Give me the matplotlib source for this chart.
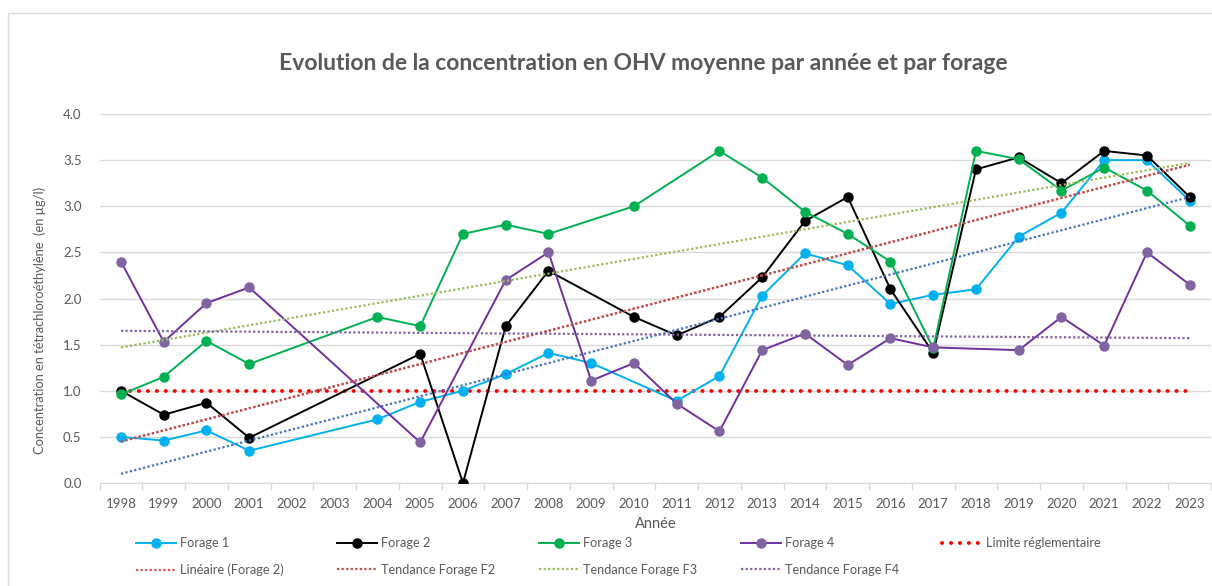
import matplotlib
matplotlib.use("Agg")
import matplotlib.pyplot as plt
from matplotlib.lines import Line2D
from matplotlib.patches import Rectangle
import numpy as np

plt.rcParams["font.family"] = ["Lato", "DejaVu Sans"]

# catégories (années) ; 2002 et 2003 sans mesure
years = [str(y) for y in range(1998, 2024)]

forage1 = [0.50, 0.46, 0.57, 0.35, None, None, 0.69, 0.88, 1.00, 1.18, 1.41, 1.30, None,
           0.89, 1.16, 2.03, 2.49, 2.36, 1.94, 2.04, 2.10, 2.67, 2.93, 3.50, 3.50, 3.06]
forage2 = [1.00, 0.74, 0.87, 0.49, None, None, None, 1.40, 0.00, 1.70, 2.30, None, 1.80,
           1.60, 1.80, 2.23, 2.84, 3.10, 2.10, 1.41, 3.40, 3.53, 3.25, 3.60, 3.55, 3.10]
forage3 = [0.96, 1.15, 1.54, 1.29, None, None, 1.80, 1.70, 2.70, 2.80, 2.70, None, 3.00,
           None, 3.60, 3.31, 2.94, 2.70, 2.40, 1.46, 3.60, 3.51, 3.17, 3.42, 3.17, 2.79]
forage4 = [2.40, 1.53, 1.95, 2.12, None, None, None, 0.44, None, 2.20, 2.50, 1.11, 1.30,
           0.86, 0.56, 1.44, 1.62, 1.28, 1.57, 1.47, None, 1.44, 1.80, 1.49, 2.50, 2.15]

limite = 1.0

# droites de tendance : valeurs lues en 1998 et en 2023
trend_f1 = [0.10, 3.10]
trend_f2 = [0.45, 3.45]
trend_f3 = [1.47, 3.47]
trend_f4 = [1.65, 1.57]

grey_txt = "#595959"

fig = plt.figure(figsize=(12.12, 5.86), dpi=100)
fig.patches.append(Rectangle((8 / 1212, -0.1), 1.2, 1 - 13 / 586 + 0.1,
                             transform=fig.transFigure, fill=False,
                             edgecolor="#D9D9D9", linewidth=1))
ax = fig.add_axes([99.6 / 1212, 1 - 483 / 586, 1111.5 / 1212, 369 / 586])

x_all = np.arange(len(years))


def series(vals):
    x = [i for i, v in enumerate(vals) if v is not None]
    y = [v for v in vals if v is not None]
    return x, y


lim_style = dict(color="#FF0000", lw=2.8, linestyle=(0, (0.05, 2.25)),
                 dash_capstyle="round")
ax.plot([x_all[0], x_all[-1]], [limite, limite], zorder=2, **lim_style)

styles = [
    (forage1, "Forage 1", "#00B0F0", "#00B0F0"),
    (forage2, "Forage 2", "#000000", "#000000"),
    (forage3, "Forage 3", "#00B050", "#00B050"),
    (forage4, "Forage 4", "#7030A0", "#8064A2"),
]
handles = {}
for vals, name, lc, mc in styles:
    x, y = series(vals)
    h, = ax.plot(x, y, color=lc, lw=1.4, marker="o", markersize=6.5,
                 markerfacecolor=mc, markeredgecolor=mc, zorder=3, label=name)
    handles[name] = h

dot = dict(lw=1.6, linestyle=(0, (1, 1.05)), zorder=4)
xt = [x_all[0], x_all[-1]]
ax.plot(xt, trend_f1, color="#4472C4", **dot)
h_lin, = ax.plot(xt, trend_f2, color="#E05050", **dot)
h_t2, = ax.plot(xt, trend_f2, color="#C0504D", **dot)
h_t3, = ax.plot(xt, trend_f3, color="#9BBB59", **dot)
h_t4, = ax.plot(xt, trend_f4, color="#8064A2", **dot)

ax.set_xlim(-0.5, len(years) - 0.5)
ax.set_ylim(0, 4)
ax.set_yticks(np.arange(0, 4.01, 0.5))
ax.set_yticklabels([f"{v:.1f}" for v in np.arange(0, 4.01, 0.5)])
ax.set_xticks(x_all)
ax.set_xticklabels(years)
ax.set_xticks(np.arange(-0.5, len(years), 1), minor=True)
ax.tick_params(axis="x", which="major", length=0, pad=11, labelsize=9.5, colors=grey_txt)
ax.tick_params(axis="x", which="minor", length=5, color="#D9D9D9", width=1)
ax.tick_params(axis="y", length=0, pad=13, labelsize=9.5, colors=grey_txt)
ax.grid(axis="y", color="#D9D9D9", lw=1)
ax.set_axisbelow(True)
for s in ["top", "right", "left"]:
    ax.spines[s].set_visible(False)
ax.spines["bottom"].set_color("#D9D9D9")

ax.set_xlabel("Année", fontsize=10.5, color=grey_txt, labelpad=5)
ax.set_ylabel("Concentration en tétrachloroéthylène  (en µg/l)", fontsize=9.3,
              color=grey_txt)
ax.yaxis.set_label_coords(-0.048, 0.44)

fig.text(643 / 1212, 1 - 63 / 586, "Evolution de la concentration en OHV moyenne par année et par forage",
         ha="center", va="center", fontsize=16.5, fontweight="bold", color=grey_txt)

# légende : une colonne par bloc, placée comme dans l'original
lim_leg = Line2D([], [], **lim_style)
columns = [
    ([handles["Forage 1"], h_lin], ["Forage 1", "Linéaire (Forage 2)"], 136),
    ([handles["Forage 2"], h_t2], ["Forage 2", "Tendance Forage F2"], 337),
    ([handles["Forage 3"], h_t3], ["Forage 3", "Tendance Forage F3"], 539),
    ([handles["Forage 4"], h_t4], ["Forage 4", "Tendance Forage F4"], 741),
    ([lim_leg], ["Limite réglementaire"], 942),
]
for hs, labs, xpix in columns:
    leg = fig.legend(hs, labs, loc="upper left", bbox_to_anchor=(xpix / 1212, 1 - 537 / 586),
                     frameon=False, fontsize=9.2, handlelength=3.1, handletextpad=0.35,
                     borderpad=0, borderaxespad=0, labelspacing=1.15)
    for t in leg.get_texts():
        t.set_color(grey_txt)

fig.savefig("out.png", dpi=100)
